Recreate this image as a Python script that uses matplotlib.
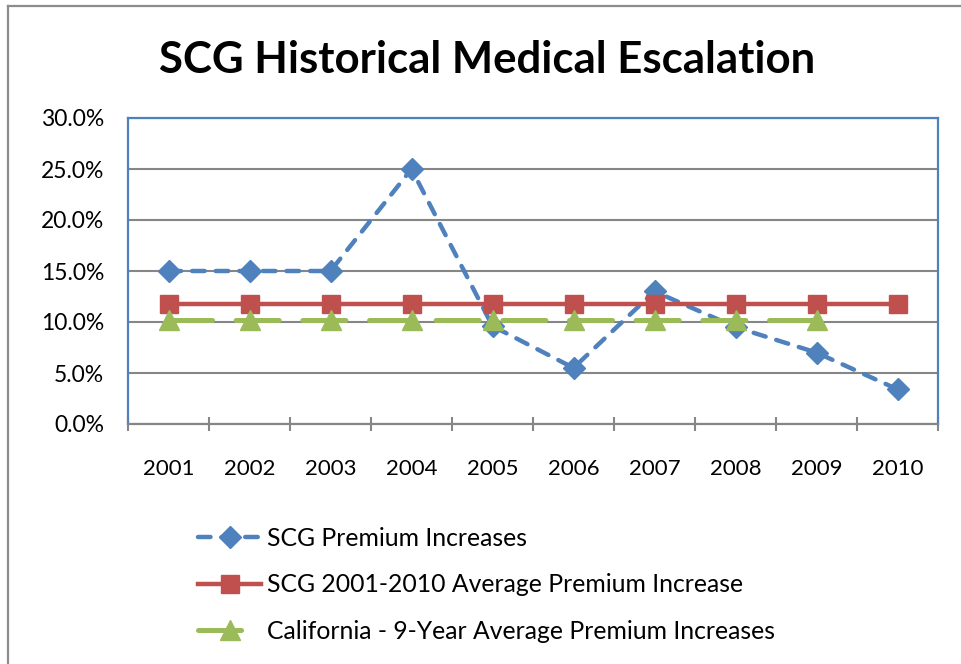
import matplotlib
matplotlib.use("Agg")
import matplotlib.pyplot as plt
from matplotlib.lines import Line2D
from matplotlib.ticker import FixedLocator, FuncFormatter

plt.rcParams['font.family'] = ['Lato', 'DejaVu Sans']
plt.rcParams['lines.scale_dashes'] = False

years = ["2001", "2002", "2003", "2004", "2005", "2006", "2007", "2008", "2009", "2010"]
scg_premium = [15.0, 15.0, 15.0, 25.0, 9.6, 5.5, 13.0, 9.5, 7.0, 3.4]
scg_average = [11.8] * 10
california_avg = [10.2] * 9
labels = ["SCG Premium Increases",
          "SCG 2001-2010 Average Premium Increase",
          "California - 9-Year Average Premium Increases"]
title = "SCG Historical Medical Escalation"

blue = "#4F81BD"
red = "#C0504D"
green = "#9BBB59"
grid_gray = "#868686"

fig = plt.figure(figsize=(9.62, 6.64), dpi=100)
W, H = 962, 664
ax = fig.add_axes([128 / W, 1 - 424 / H, (938 - 128) / W, (424 - 118) / H])

x = list(range(len(years)))
l1, = ax.plot(x, scg_premium, color=blue, lw=3.2, marker='D', markersize=11,
              dashes=(9, 8), dash_capstyle='round', zorder=3, label=labels[0])
l2, = ax.plot(x, scg_average, color=red, lw=3.2, marker='s', markersize=13,
              zorder=4, label=labels[1])
l3, = ax.plot(x[:len(california_avg)], california_avg, color=green, lw=3.6, marker='^',
              markersize=15, dashes=(31, 17), dash_capstyle='round', zorder=5,
              label=labels[2])

ax.set_xlim(-0.5, len(years) - 0.5)
ax.set_ylim(0, 30)
ax.yaxis.set_major_locator(FixedLocator([0, 5, 10, 15, 20, 25, 30]))
ax.yaxis.set_major_formatter(FuncFormatter(lambda v, p: f"{v:.1f}%"))
ax.grid(axis='y', color=grid_gray, lw=1.5, zorder=0)
ax.set_axisbelow(True)

ax.xaxis.set_major_locator(FixedLocator([i - 0.5 for i in range(len(years) + 1)]))
ax.xaxis.set_major_formatter(FuncFormatter(lambda v, p: ""))
ax.xaxis.set_minor_locator(FixedLocator(x))
ax.set_xticklabels(years, minor=True)
ax.tick_params(axis='x', which='major', direction='inout', length=10, width=1.5,
               color=grid_gray)
ax.tick_params(axis='x', which='minor', length=0, pad=25, labelsize=16)
ax.tick_params(axis='y', length=0, pad=17, labelsize=16.5)

for s in ['left', 'top', 'right']:
    ax.spines[s].set_color(blue)
    ax.spines[s].set_linewidth(1.6)
ax.spines['bottom'].set_color(grid_gray)
ax.spines['bottom'].set_linewidth(1.6)

fig.text(487 / W, 1 - 60 / H, title, ha='center', va='center', fontsize=31.5,
         fontweight='bold')

fig.legend(handles=[l1, l2, l3], loc='center left', bbox_to_anchor=(198 / W, 1 - 585 / H),
           frameon=False, fontsize=17.8, borderpad=0, borderaxespad=0,
           handlelength=2.55, handletextpad=0.25, labelspacing=0.95, numpoints=1)

fig.add_artist(Line2D([8 / W, 8 / W], [0, 1 - 6 / H], color="#8C8C8C", lw=1.6,
                      transform=fig.transFigure))
fig.add_artist(Line2D([8 / W, 1], [1 - 6 / H, 1 - 6 / H], color="#8C8C8C", lw=1.6,
                      transform=fig.transFigure))

fig.savefig("out.png", dpi=100)
